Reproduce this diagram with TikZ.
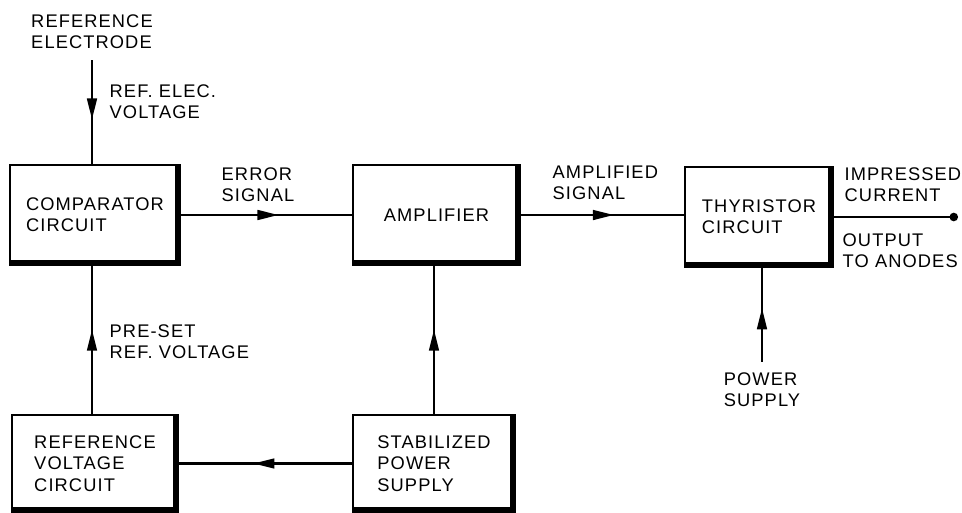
\documentclass[tikz,border=0pt]{standalone}
\usepackage{fontspec}
\setmainfont{Liberation Sans}[LetterSpace=6]
\usetikzlibrary{arrows.meta,decorations.markings}
\tikzset{
  block/.style={draw, line width=1.3pt, align=left, inner sep=0pt},
  heavy/.style={line width=4.2pt},
  lbl/.style={align=left, inner sep=1pt},
  wire/.style={line width=1.5pt},
  midarrow/.style={postaction={decorate}, decoration={markings,
    mark=at position 0.57 with {\arrow{Triangle[length=15pt,width=7pt]}}}}
}
\begin{document}
\begin{tikzpicture}[x=0.025cm, y=-0.025cm, font=\fontsize{13}{15.2}\selectfont]
\useasboundingbox (0,0) rectangle (962,513);
\node[block, minimum width=4.25cm, minimum height=2.5cm] (comp) at (95,215) {COMPARATOR\\CIRCUIT};
\node[block, minimum width=4.175cm, minimum height=2.5cm] (amp) at (436.5,215) {AMPLIFIER};
\node[block, minimum width=3.7cm, minimum height=2.5cm] (thy) at (759,217) {THYRISTOR\\CIRCUIT};
\node[block, minimum width=4.15cm, minimum height=2.425cm] (refv) at (95,463.5) {REFERENCE\\VOLTAGE\\CIRCUIT};
\node[block, minimum width=4.05cm, minimum height=2.425cm] (stab) at (434,463.5) {STABILIZED\\POWER\\SUPPLY};
% shadow edges
\foreach \b in {comp,amp,thy,refv,stab}
  \draw[heavy] ([xshift=-2pt]\b.north east) -- ([shift={(-2pt,2pt)}]\b.south east) -- ([yshift=2pt]\b.south west);
\node[lbl, outer sep=7pt] (refel) at (92,32) {REFERENCE\\ELECTRODE};
\node[lbl, outer sep=7pt] (pwr) at (762,390) {POWER\\SUPPLY};
\node[lbl, anchor=west] (refelv) at (108,102) {REF.\ ELEC.\\VOLTAGE};
\node[lbl, anchor=west] (err) at (220,185) {ERROR\\SIGNAL};
\node[lbl, anchor=west] (ampsig) at (551,183) {AMPLIFIED\\SIGNAL};
\node[lbl, anchor=west] (imp) at (843,185) {IMPRESSED\\CURRENT};
\node[lbl, anchor=west] (outp) at (841,251) {OUTPUT\\TO ANODES};
\node[lbl, anchor=west] (preset) at (108,342) {PRE-SET\\REF.\ VOLTAGE};
\coordinate (anodes) at (958,217);
\draw[wire, midarrow] (refel.south) -- (refel.south |- comp.north);
\draw[wire, midarrow] (comp.east) -- (amp.west);
\draw[wire, midarrow] (amp.east) -- (amp.east -| thy.west);
\draw[wire, -{Circle[length=6pt]}] (thy.east) -- (anodes);
\draw[wire, midarrow] (pwr.north) -- (pwr.north |- thy.south);
\draw[wire, midarrow] (refv.north -| refel.south) -- (comp.south -| refel.south);
\draw[wire, midarrow] (stab.north) -- (stab.north |- amp.south);
\draw[wire, midarrow] (stab.west) -- (refv.east);
\end{tikzpicture}
\end{document}
